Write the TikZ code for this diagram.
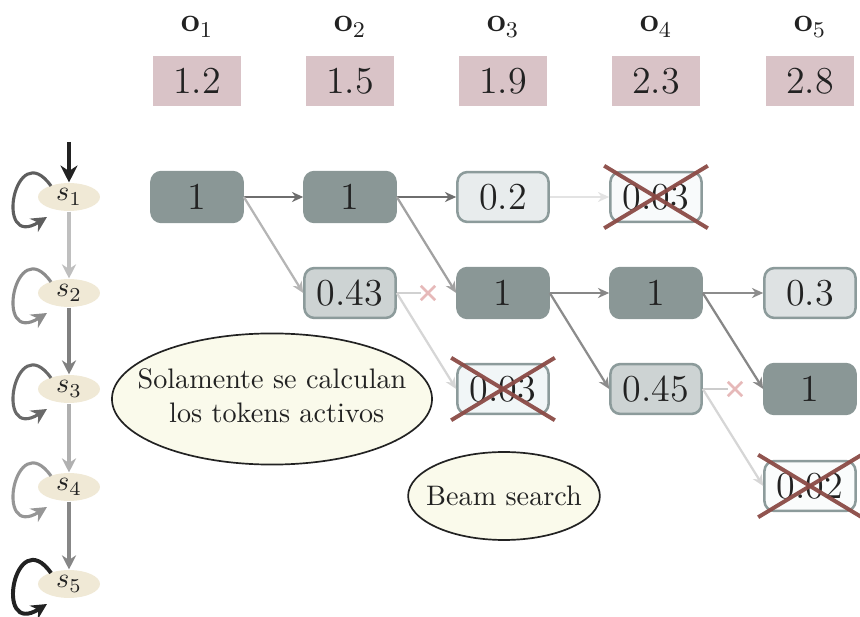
\documentclass[tikz,border=0pt]{standalone}
\usetikzlibrary{arrows.meta,shapes.geometric,shapes.misc,calc}
\definecolor{txt}{RGB}{34,34,34}
\definecolor{darkfill}{RGB}{138,151,150}
\definecolor{bordergray}{RGB}{140,155,155}
\definecolor{fillA}{RGB}{232,236,237}
\definecolor{fillB}{RGB}{205,211,211}
\definecolor{fillC}{RGB}{222,226,227}
\definecolor{fillD}{RGB}{248,250,251}
\definecolor{fillE}{RGB}{241,246,247}
\definecolor{fillF}{RGB}{250,252,252}
\definecolor{pinkbox}{RGB}{217,195,199}
\definecolor{crossred}{RGB}{139,75,70}
\definecolor{xpink}{RGB}{230,185,185}
\definecolor{beige}{RGB}{240,233,214}
\definecolor{cream}{RGB}{250,250,235}
\tikzset{
  box/.style={rectangle, rounded corners=3.5pt, minimum width=32.3pt, minimum height=17.7pt,
    inner sep=0pt, line width=0.9pt, draw=bordergray, text=txt, font=\fontsize{13.5}{16}\selectfont},
  darkbox/.style={box, fill=darkfill, draw=darkfill},
  obs/.style={rectangle, minimum width=30.9pt, minimum height=17.4pt, inner sep=0pt, fill=pinkbox,
    text=txt, font=\fontsize{13.5}{16}\selectfont},
  olabel/.style={text=txt, font=\fontsize{12}{14}\selectfont},
  state/.style={ellipse, minimum width=22pt, minimum height=9.9pt, inner sep=0pt, fill=beige, text=txt},
  bubble/.style={ellipse, draw=txt, line width=0.6pt, fill=cream, inner sep=0pt, text=txt},
  arr/.style={line width=0.8pt, -{Stealth[length=4pt,width=3.6pt]}},
  chain/.style={line width=1.1pt, -{Stealth[length=5pt,width=5pt]}},
  loopline/.style={line width=1.1pt, -{Stealth[length=5.5pt,width=5.5pt]}},
  xline/.style={line width=1.4pt, crossred, opacity=0.95},
  xmark/.style={cross out, draw=xpink, line width=0.9pt, minimum size=4.2pt, inner sep=0pt},
}
\newcommand\hmmloop[2]{\draw[loopline,#2] ($(#1)+(-18,-11)$) .. controls ($(#1)+(-54,-62)$) and ($(#1)+(-76,54)$) .. ($(#1)+(-22,20)$);}
\newcommand\crossit[1]{%
  \draw[xline] ([shift={(-5,-5)}]#1.north west) -- ([shift={(5,5)}]#1.south east);
  \draw[xline] ([shift={(5,-5)}]#1.north east) -- ([shift={(-5,5)}]#1.south west);}
\begin{document}
\begin{tikzpicture}[x=0.3546pt,y=-0.3546pt]
\useasboundingbox (0,0) rectangle (860,617);

% observation labels and values
\node[olabel] (o1) at (197,27) {$\mathbf{o}_1$};
\node[olabel] (o2) at (350,27) {$\mathbf{o}_2$};
\node[olabel] (o3) at (503,27) {$\mathbf{o}_3$};
\node[olabel] (o4) at (656,27) {$\mathbf{o}_4$};
\node[olabel] (o5) at (810,27) {$\mathbf{o}_5$};
\node[obs] (v1) at (197,81) {1.2};
\node[obs] (v2) at (350,81) {1.5};
\node[obs] (v3) at (503,81) {1.9};
\node[obs] (v4) at (656,81) {2.3};
\node[obs] (v5) at (810,81) {2.8};

% HMM chain
\node[state] (s1) at (69,197) {$s_1$};
\node[state] (s2) at (69,293) {$s_2$};
\node[state] (s3) at (69,389) {$s_3$};
\node[state] (s4) at (69,487) {$s_4$};
\node[state] (s5) at (69,584) {$s_5$};
\coordinate (start) at (69,142);
\draw[line width=1.5pt, -{Stealth[length=6pt,width=6pt]}, txt] (start) -- (s1.north);
\draw[chain, black!25] (s1) -- (s2);
\draw[chain, black!50] (s2) -- (s3);
\draw[chain, black!31] (s3) -- (s4);
\draw[chain, black!47] (s4) -- (s5);
\hmmloop{s1}{black!63}
\hmmloop{s2}{black!45}
\hmmloop{s3}{black!59}
\hmmloop{s4}{black!41}
\hmmloop{s5}{txt, line width=1.4pt}

% trellis
\node[darkbox] (n11) at (197,197) {1};
\node[darkbox] (n21) at (350,197) {1};
\node[box, fill=fillA] (n31) at (503,197) {0.2};
\node[box, fill=fillD] (n41) at (656,197) {0.03};
\node[box, fill=fillB] (n22) at (350,293) {0.43};
\node[darkbox] (n32) at (503,293) {1};
\node[darkbox] (n42) at (656,293) {1};
\node[box, fill=fillC] (n52) at (810,293) {0.3};
\node[box, fill=fillE] (n33) at (503,389) {0.03};
\node[box, fill=fillB] (n43) at (656,389) {0.45};
\node[darkbox] (n53) at (810,389) {1};
\node[box, fill=fillF] (n54) at (810,486) {0.02};

\node[xmark] (x1) at (428,293) {};
\node[xmark] (x2) at (735,389) {};

\draw[arr, black!57] (n11.east) -- (n21.west);
\draw[arr, black!29] (n11.east) -- (n22.west);
\draw[arr, black!57] (n21.east) -- (n31.west);
\draw[arr, black!37] (n21.east) -- (n32.west);
\draw[arr, black!11] (n31.east) -- (n41.west);
\draw[line width=0.8pt, black!18] (n22.east) -- (x1.west);
\draw[arr, black!16] (n22.east) -- (n33.west);
\draw[arr, black!47] (n32.east) -- (n42.west);
\draw[arr, black!45] (n32.east) -- (n43.west);
\draw[arr, black!45] (n42.east) -- (n52.west);
\draw[arr, black!47] (n42.east) -- (n53.west);
\draw[line width=0.8pt, black!20] (n43.east) -- (x2.west);
\draw[arr, black!16] (n43.east) -- (n54.west);

\crossit{n41}
\crossit{n33}
\crossit{n54}

% notes
\node[bubble, minimum width=113.5pt, minimum height=46.5pt] (note1) at (272,399)
  {\makebox[0pt]{\begin{tabular}{@{}c@{}}Solamente se calculan\\ \ los tokens activos\end{tabular}}};
\node[bubble, minimum width=68pt, minimum height=31.2pt] (note2) at (504,496)
  {\makebox[0pt]{Beam search}};
\end{tikzpicture}
\end{document}
